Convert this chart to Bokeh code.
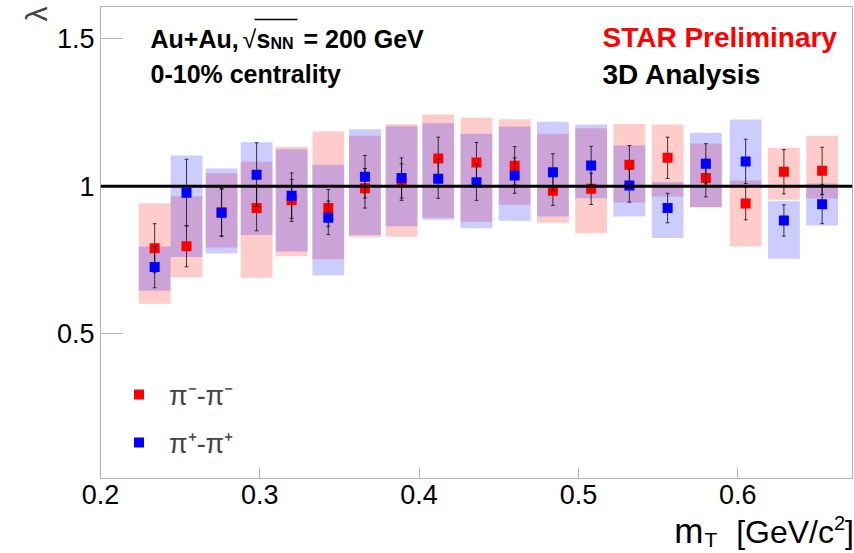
from bokeh.plotting import figure
from bokeh.layouts import column
from bokeh.models import (Range1d, FixedTicker, Span, Label, Legend, LegendItem,
                          ColumnDataSource, Title, Div)
from bokeh.embed import file_html
from bokeh.resources import INLINE

# ---- data ----
mt = [0.234, 0.254, 0.276, 0.298, 0.320, 0.343, 0.366, 0.389, 0.412, 0.436,
      0.460, 0.484, 0.508, 0.532, 0.556, 0.580, 0.605, 0.629, 0.653]
lam_mm = [0.790, 0.797, 0.912, 0.926, 0.952, 0.926, 0.993, 1.014, 1.094, 1.080,
          1.069, 0.985, 0.991, 1.073, 1.096, 1.028, 0.941, 1.049, 1.052]
lam_pp = [0.726, 0.978, 0.910, 1.039, 0.968, 0.893, 1.032, 1.028, 1.025, 1.013,
          1.036, 1.047, 1.070, 1.002, 0.926, 1.076, 1.084, 0.884, 0.939]
err_mm = [0.083, 0.070, 0.080, 0.077, 0.071, 0.063, 0.067, 0.062, 0.072, 0.068,
          0.065, 0.050, 0.053, 0.065, 0.070, 0.064, 0.055, 0.075, 0.080]
err_pp = [0.070, 0.113, 0.080, 0.108, 0.077, 0.057, 0.072, 0.068, 0.066, 0.061,
          0.060, 0.063, 0.065, 0.056, 0.050, 0.068, 0.075, 0.053, 0.066]
sys_mm_lo = [0.602, 0.691, 0.792, 0.690, 0.763, 0.753, 0.827, 0.829, 0.893, 0.880,
             0.937, 0.876, 0.841, 0.945, 0.965, 0.929, 0.796, 0.954, 0.958]
sys_mm_hi = [0.942, 0.966, 1.044, 1.083, 1.133, 1.185, 1.171, 1.211, 1.243, 1.232,
             1.227, 1.177, 1.196, 1.211, 1.209, 1.145, 1.019, 1.130, 1.171]
sys_pp_lo = [0.646, 0.760, 0.772, 0.835, 0.779, 0.698, 0.835, 0.864, 0.886, 0.858,
             0.883, 0.897, 0.959, 0.897, 0.825, 0.929, 0.999, 0.754, 0.867]
sys_pp_hi = [0.796, 1.104, 1.060, 1.149, 1.125, 1.073, 1.193, 1.203, 1.213, 1.178,
             1.202, 1.218, 1.209, 1.138, 1.013, 1.181, 1.226, 0.949, 1.009]
box_half = 0.010
x_ticks = [0.2, 0.3, 0.4, 0.5, 0.6]
y_ticks = [0.5, 1.0, 1.5]

# ---- pixel -> data helpers for placing annotations (page pixels) ----
def X(px):
    return 0.2 + (px - 100) / 1593.0

def Y(py):
    return 1.0 - (py - 185.7) / 295.3

p = figure(width=854, height=516, output_backend="svg", toolbar_location=None,
           x_range=Range1d(X(100), X(852)), y_range=Range1d(Y(478), Y(6)),
           min_border_left=100, min_border_right=2, min_border_top=6,
           min_border_bottom=38)
p.title.visible = False
p.grid.visible = False
p.outline_line_color = "#b4b4b4"
p.background_fill_color = "white"
p.border_fill_color = "white"

for ax in (p.xaxis[0], p.yaxis[0]):
    ax.axis_line_color = "#b4b4b4"
    ax.major_tick_line_color = "#b4b4b4"
    ax.minor_tick_line_color = None
    ax.major_tick_out = 0
    ax.major_label_text_font = "Liberation Sans"
    ax.major_label_text_font_size = "27px"
    ax.major_label_text_color = "black"
    ax.major_label_standoff = 6
p.xaxis.ticker = FixedTicker(ticks=x_ticks, minor_ticks=[])
p.yaxis.ticker = FixedTicker(ticks=y_ticks, minor_ticks=[])
p.xaxis.major_tick_in = 11
p.yaxis.major_tick_in = 22
p.yaxis.major_label_overrides = {0.5: "0.5", 1.0: "1", 1.5: "1.5"}

# y-axis title (lambda), at the top end of the axis
p.add_layout(Title(text="λ", align="right", text_font="Liberation Sans",
                   text_font_size="30px", text_font_style="normal",
                   standoff=2), "left")

src = ColumnDataSource(dict(
    x=mt, l=[v - box_half for v in mt], r=[v + box_half for v in mt],
    xl=[v - 0.0012 for v in mt], xr=[v + 0.0012 for v in mt],
    mm=lam_mm, pp=lam_pp,
    mm_lo=[a - b for a, b in zip(lam_mm, err_mm)], mm_hi=[a + b for a, b in zip(lam_mm, err_mm)],
    pp_lo=[a - b for a, b in zip(lam_pp, err_pp)], pp_hi=[a + b for a, b in zip(lam_pp, err_pp)],
    smm_lo=sys_mm_lo, smm_hi=sys_mm_hi, spp_lo=sys_pp_lo, spp_hi=sys_pp_hi))

p.quad(left="l", right="r", bottom="smm_lo", top="smm_hi", source=src,
       fill_color="#ff0000", fill_alpha=0.2, line_color=None)
p.quad(left="l", right="r", bottom="spp_lo", top="spp_hi", source=src,
       fill_color="#0000ff", fill_alpha=0.2, line_color=None)

p.add_layout(Span(location=1.0, dimension="width", line_color="black", line_width=3))

eb = dict(line_color="black", line_alpha=0.75, line_width=1)
p.segment(x0="x", x1="x", y0="mm_lo", y1="mm_hi", source=src, **eb)
for k in ("mm_lo", "mm_hi"):
    p.segment(x0="xl", x1="xr", y0=k, y1=k, source=src, **eb)
r_mm = p.scatter(x="x", y="mm", source=src, marker="square", size=10,
                 fill_color="#ff0000", line_color=None)
p.segment(x0="x", x1="x", y0="pp_lo", y1="pp_hi", source=src, **eb)
for k in ("pp_lo", "pp_hi"):
    p.segment(x0="xl", x1="xr", y0=k, y1=k, source=src, **eb)
r_pp = p.scatter(x="x", y="pp", source=src, marker="square", size=10,
                 fill_color="#0000ff", line_color=None)

legend = Legend(items=[LegendItem(label="π⁻-π⁻", renderers=[r_mm]),
                       LegendItem(label="π⁺-π⁺", renderers=[r_pp])],
                location=(26, 12), orientation="vertical",
                glyph_width=25, glyph_height=48, label_height=48,
                label_standoff=18, spacing=0, padding=0, margin=0,
                border_line_color=None, background_fill_alpha=0,
                label_text_font="Liberation Sans", label_text_font_size="27px")
p.add_layout(legend)

F = "Liberation Sans"
def lab(px, py, text, size, color="black", style="bold", align="left"):
    p.add_layout(Label(x=X(px), y=Y(py), text=text, text_font=F,
                       text_font_size=f"{size}px", text_font_style=style,
                       text_color=color, text_align=align,
                       text_baseline="alphabetic"))

lab(150, 38, "Au+Au,", 25)
lab(242, 38, "√", 25, style="normal")
lab(256, 38, "s", 25)
lab(270, 43, "NN", 16)
lab(303, 38, "= 200 GeV", 25)
p.segment(x0=[X(254)], x1=[X(297)], y0=[Y(19)], y1=[Y(19)], line_color="black", line_width=1.5)
lab(150, 73, "0-10% centrality", 25)
lab(602, 37, "STAR Preliminary", 28, color="#ff0000")
lab(602, 74, "3D Analysis", 28)

# x-axis title with real sub/superscripts
xt = Div(text=(
    '<div style="display:block;width:850px;font-family:\'Liberation Sans\',Arial,sans-serif;'
    'font-size:32px;line-height:30px;text-align:right;white-space:nowrap;color:black;">'
    '<span style="font-size:35px;">m</span>'
    '<span style="font-size:21px;position:relative;top:4px;margin-left:1px;margin-right:10px;">T</span>&nbsp;'
    '[GeV/c<span style="font-size:20px;position:relative;top:-13px;">2</span>]</div>'),
    width=854, height=37, margin=(0, 0, 0, 0),
    styles={"text-align": "right", "width": "854px"})

layout = column(p, xt, spacing=0)
open("out.html", "w").write(file_html(layout, INLINE))
